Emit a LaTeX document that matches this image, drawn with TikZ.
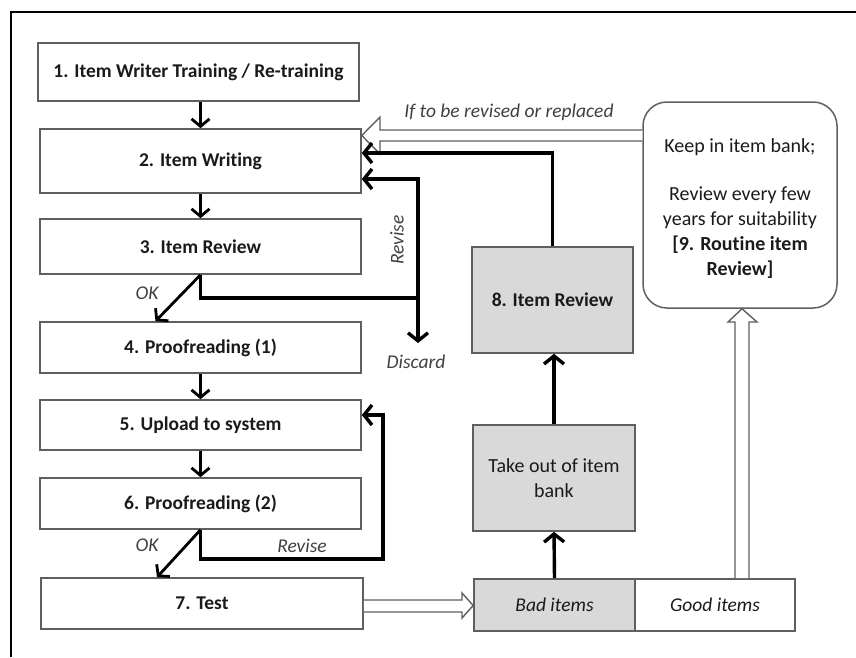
\documentclass[tikz,border=0pt]{standalone}
\usepackage{fontspec}
\setmainfont{Carlito}[Ligatures=NoCommon]
\usetikzlibrary{arrows.meta,calc}
\definecolor{boxgray}{HTML}{5F5F5F}
\definecolor{fillgray}{HTML}{D9D9D9}
\definecolor{labgray}{HTML}{404040}
\definecolor{txt}{HTML}{1A1A1A}
\begin{document}
\begin{tikzpicture}[x=1pt,y=-1pt,
  stepbox/.style={draw=boxgray, line width=1.6pt, minimum width=321pt, inner sep=0pt,
    text=txt, font=\bfseries\fontsize{19.5}{22}\selectfont},
  graybox/.style={draw=boxgray, line width=1.6pt, fill=fillgray, inner sep=0pt,
    text=txt, align=center, font=\fontsize{20}{25}\selectfont},
  lab/.style={text=labgray, font=\itshape\fontsize{19.5}{22}\selectfont, inner sep=0pt},
  downarrow/.style={line width=2.8pt, -{Straight Barb[length=7.5pt,width=18pt]}},
  thickline/.style={line width=3.4pt},
  thickarrow/.style={line width=3.4pt, -{Straight Barb[length=8pt,width=20pt]}, line join=miter},
  hollow/.style={draw=boxgray, line width=1.4pt, fill=white, line join=miter}
]
\useasboundingbox (0,0) rectangle (856,657);
\draw[line width=2pt] (11,657) -- (11,12) -- (856,12);

% left column
\node[stepbox, minimum height=58pt] (b1) at (198.5,72) {1. Item Writer Training / Re-training};
\node[stepbox, minimum height=64pt] (b2) at (200.5,161) {2. Item Writing};
\node[stepbox, minimum height=55pt] (b3) at (200.5,246.5) {3. Item Review};
\node[stepbox, minimum height=51pt] (b4) at (200.5,347.5) {4. Proofreading (1)};
\node[stepbox, minimum height=50pt] (b5) at (200.5,425) {5. Upload to system};
\node[stepbox, minimum height=51pt] (b6) at (200.5,503.5) {6. Proofreading (2)};
\node[stepbox, minimum height=51pt, minimum width=322pt] (b7) at (202,603.5) {7. Test};

% right part
\node[graybox, minimum width=161pt, minimum height=106pt, font=\bfseries\fontsize{19.5}{25}\selectfont] (b8) at (552.5,300) {8. Item Review};
\node[graybox, minimum width=162pt, minimum height=106pt] (tk) at (554,478) {Take out of item\\bank};
\node[graybox, minimum width=161pt, minimum height=52pt, font=\itshape\fontsize{19.5}{22}\selectfont] (bad) at (554.5,605) {Bad items};
\node[draw=boxgray, line width=1.6pt, inner sep=0pt, minimum width=160pt, minimum height=52pt,
  text=txt, font=\itshape\fontsize{19.5}{22}\selectfont] (good) at (715,605) {Good items};
\node[draw=boxgray, line width=1.5pt, rounded corners=24pt, inner sep=0pt, minimum width=194pt,
  minimum height=206pt] (rb) at (740,205) {};
\node[inner sep=0pt, align=center, text=txt, font=\fontsize{20}{25}\selectfont] (rbt) at ($(rb.center)+(0,4)$)
  {Keep in item bank;\\[0pt]\\[-2pt]Review every few\\years for suitability\\\textbf{[9. Routine item}\\\textbf{Review]}};

% hollow arrows
\draw[hollow] (rb.west |- 0,130) -- (380,130) -- (380,117) -- ($(b2.east)+(0,-25.5)$)
  -- (380,154) -- (380,141) -- (rb.west |- 0,141) ;
\draw[hollow] (b7.east |- 0,600) -- (462,600) -- (462,593) -- (bad.west |- 0,605.5)
  -- (462,618) -- (462,612) -- (b7.east |- 0,612);
\draw[hollow] (735,0 |- good.north) -- (735,322) -- (728,322) -- (742,0 |- rb.south)
  -- (757,322) -- (749,322) -- (749,0 |- good.north);

% straight flow
\draw[downarrow] (b2.north |- b1.south) -- (b2.north);
\draw[downarrow] (b2.south) -- (b3.north);
\draw[downarrow] (b4.south) -- (b5.north);
\draw[downarrow] (b5.south) -- (b6.north);
\draw[downarrow] (b3.south) -- ([xshift=-45pt]b4.north);
\draw[downarrow] (b6.south) -- ([xshift=-45pt]b7.north);

% revise / discard from 3
\coordinate (rv) at (418,298);
\coordinate (disc) at (418,343);
\draw[thickline, line join=miter] (b3.south) |- (rv);
\draw[thickarrow] (rv) -- (disc);
\draw[thickarrow] (rv) |- ($(b2.east)+(0,18)$);

% revise from 6
\coordinate (rv6) at (383,559);
\draw[thickarrow] (b6.south) |- (rv6) |- ($(b5.east)+(0,-10)$);

% right column arrows
\draw[thickarrow] (bad.north) -- (tk.south);
\draw[thickarrow] (tk.south |- tk.north) -- (tk.north |- b8.south);
\draw[thickarrow] (b8.north) |- ($(b2.east)+(0,-8)$);

% labels
\node[lab] (ok1) at (147,293) {OK};
\node[lab] (ok2) at (147,545) {OK};
\node[lab, rotate=90] (rev1) at (397,240) {Revise};
\node[lab] (dis) at (416,362) {Discard};
\node[lab] (rev2) at (302,546) {Revise};
\node[lab] (ifr) at (509,112) {If to be revised or replaced};
\end{tikzpicture}
\end{document}
